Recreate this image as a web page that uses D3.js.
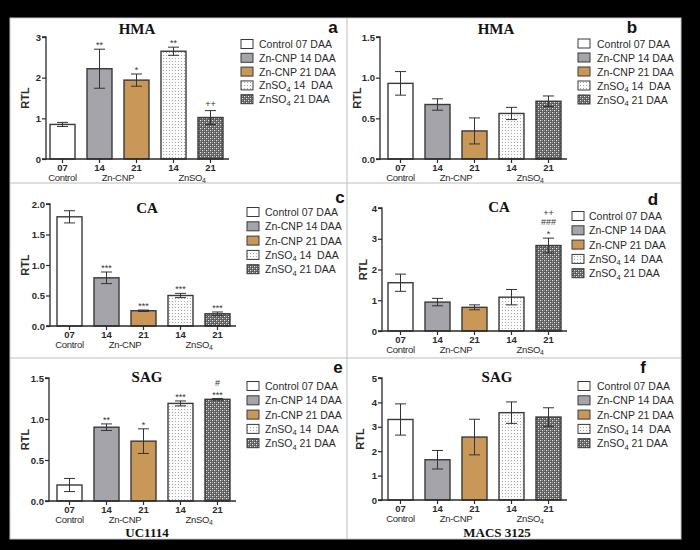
<!DOCTYPE html>
<html><head><meta charset="utf-8">
<script src="https://cdn.jsdelivr.net/npm/d3@7"></script>
<style>
html,body{margin:0;padding:0;background:#000;}
svg{display:block;}
</style></head>
<body>
<svg id="chart" width="700" height="550"></svg>
<script>
// ---------- DATA ----------
const categories = ["07", "14", "21", "14", "21"];
const groupLabels = ["Control", "Zn-CNP", "ZnSO4"];
const seriesNames = ["Control 07 DAA", "Zn-CNP 14 DAA", "Zn-CNP 21 DAA", "ZnSO4 14  DAA", "ZnSO4 21 DAA"];
const panelLetters = ["a", "b", "c", "d", "e", "f"];
const panelTitles = ["HMA", "HMA", "CA", "CA", "SAG", "SAG"];
const cultivars = ["UC1114", "MACS 3125"];

const hmaUC = [0.85, 2.22, 1.94, 2.65, 1.02];
const hmaUCErr = [0.05, 0.48, 0.15, 0.10, 0.17];
const hmaUCAnn = ["", "**", "*", "**", "++"];

const hmaMACS = [0.93, 0.67, 0.345, 0.56, 0.71];
const hmaMACSErr = [0.145, 0.07, 0.16, 0.075, 0.065];
const hmaMACSAnn = ["", "", "", "", ""];

const caUC = [1.79, 0.79, 0.25, 0.50, 0.20];
const caUCErr = [0.10, 0.095, 0.012, 0.035, 0.03];
const caUCAnn = ["", "***", "***", "***", "***"];

const caMACS = [1.57, 0.94, 0.77, 1.10, 2.78];
const caMACSErr = [0.28, 0.12, 0.08, 0.25, 0.24];
const caMACSAnn = ["", "", "", "", "*\n###\n++"];

const sagUC = [0.195, 0.90, 0.73, 1.19, 1.24];
const sagUCErr = [0.08, 0.04, 0.15, 0.03, 0.01];
const sagUCAnn = ["", "**", "*", "***", "***\n#"];

const sagMACS = [3.30, 1.65, 2.58, 3.58, 3.40];
const sagMACSErr = [0.64, 0.38, 0.73, 0.44, 0.38];
const sagMACSAnn = ["", "", "", "", ""];

const yMaxes = [3, 1.5, 2, 4, 1.5, 5];
const yTicks = [[0,1,2,3],[0,0.5,1,1.5],[0,0.5,1,1.5,2],[0,1,2,3,4],[0,0.5,1,1.5],[0,1,2,3,4,5]];
const yFormats = ["d", ".1f", ".1f", "d", ".1f", "d"];

// ---------- STYLE / LAYOUT ----------
const fills = ["#ffffff", "#a4a4aa", "#c99858", "url(#dots)", "url(#checks)"];
const layouts = [
  {axisX:46, barStart:50, y0:159, yTop:37, title:[137,34], letter:[333,33], rtlX:25, legSq:241, legTx:259, legY:44, legDy:13.8},
  {axisX:380, barStart:388, y0:159, yTop:37, title:[496,34], letter:[632,33], rtlX:357, legSq:578, legTx:597, legY:43.5, legDy:14},
  {axisX:50, barStart:57, y0:326, yTop:204, title:[147,213], letter:[340,203], rtlX:25, legSq:247, legTx:265, legY:212, legDy:14.3},
  {axisX:382, barStart:388, y0:331, yTop:208, title:[499,212], letter:[653,205], rtlX:363, legSq:572, legTx:589, legY:216, legDy:14.3},
  {axisX:49, barStart:57, y0:501, yTop:378, title:[147,382], letter:[338,373], rtlX:25, legSq:247, legTx:265, legY:386, legDy:14.3},
  {axisX:382, barStart:388, y0:500, yTop:378, title:[497,382], letter:[643,373], rtlX:360, legSq:578, legTx:597, legY:386, legDy:14.3}
];
const panelsData = [
  [hmaUC, hmaUCErr, hmaUCAnn], [hmaMACS, hmaMACSErr, hmaMACSAnn],
  [caUC, caUCErr, caUCAnn], [caMACS, caMACSErr, caMACSAnn],
  [sagUC, sagUCErr, sagUCAnn], [sagMACS, sagMACSErr, sagMACSAnn]
];

const svg = d3.select("#chart");
const defs = svg.append("defs");
const pd = defs.append("pattern").attr("id","dots").attr("patternUnits","userSpaceOnUse").attr("width",3).attr("height",3);
pd.append("rect").attr("width",3).attr("height",3).attr("fill","#fbfbfb");
pd.append("rect").attr("x",1).attr("y",1).attr("width",1).attr("height",1).attr("fill","#a8a8a8");
const pc = defs.append("pattern").attr("id","checks").attr("patternUnits","userSpaceOnUse").attr("width",4).attr("height",4);
pc.append("rect").attr("width",4).attr("height",4).attr("fill","#585858");
pc.append("rect").attr("x",0).attr("y",0).attr("width",1.2).attr("height",1.2).attr("fill","#e8e8e8");
pc.append("rect").attr("x",2).attr("y",2).attr("width",1.2).attr("height",1.2).attr("fill","#e8e8e8");
pc.append("rect").attr("x",2).attr("y",0).attr("width",1).attr("height",1).attr("fill","#9a9a9a");
pc.append("rect").attr("x",0).attr("y",2).attr("width",1).attr("height",1).attr("fill","#9a9a9a");

// white sheet
svg.append("rect").attr("x",10).attr("y",18).attr("width",671).attr("height",521).attr("fill","#fff")
  .attr("stroke","#c8c8c8").attr("stroke-width",1);
// dividers
svg.append("line").attr("x1",347).attr("x2",347).attr("y1",18).attr("y2",539).attr("stroke","#bdbdbd").attr("stroke-width",1);
svg.append("line").attr("x1",10).attr("x2",681).attr("y1",183).attr("y2",183).attr("stroke","#bdbdbd").attr("stroke-width",1);
svg.append("line").attr("x1",10).attr("x2",681).attr("y1",358).attr("y2",358).attr("stroke","#bdbdbd").attr("stroke-width",1);

const ink = "#2a2a2a";
const sans = "Arial, 'Liberation Sans', Helvetica, sans-serif";
const serif = "'Times New Roman', 'Liberation Serif', serif";

function addZnSO4(sel, rest) {
  sel.append("tspan").text("ZnSO");
  sel.append("tspan").attr("font-size","0.72em").attr("dy",2.5).text("4");
  if (rest) sel.append("tspan").attr("dy",-2.5).text(rest);
}

panelsData.forEach((pdat, i) => {
  const [vals, errs, anns] = pdat;
  const L = layouts[i];
  const g = svg.append("g");
  const step = 37, bw = 25;
  const x = d3.scaleBand().domain(d3.range(categories.length))
    .range([L.barStart - 6, L.barStart - 6 + step * categories.length])
    .paddingInner(12/37).paddingOuter(6/37);
  const y = d3.scaleLinear().domain([0, yMaxes[i]]).range([L.y0, L.yTop]);

  // bars
  g.selectAll("rect.bar").data(vals).join("rect")
    .attr("x", (d,j) => x(j)).attr("width", x.bandwidth())
    .attr("y", d => y(d)).attr("height", d => L.y0 - y(d))
    .attr("fill", (d,j) => fills[j]).attr("stroke", "#3a3a3a").attr("stroke-width", 1.4);

  // error bars
  vals.forEach((v, j) => {
    const cx = x(j) + x.bandwidth()/2;
    const hi = y(v + errs[j]), lo = y(Math.max(0, v - errs[j]));
    g.append("line").attr("x1",cx).attr("x2",cx).attr("y1",hi).attr("y2",lo).attr("stroke","#333").attr("stroke-width",1);
    [hi, lo].forEach(yy => g.append("line").attr("x1",cx-5.5).attr("x2",cx+5.5).attr("y1",yy).attr("y2",yy).attr("stroke","#333").attr("stroke-width",1));
    if (anns[j]) {
      const lines = anns[j].split("\n");
      lines.forEach((t, k) => {
        g.append("text").attr("x", cx).attr("y", hi - 4 - k*9 + (t.indexOf("*")>=0 ? 3 : 0))
          .attr("text-anchor","middle").attr("font-family",sans).attr("font-size",9)
          .attr("fill","#333").text(t);
      });
    }
  });

  // y axis
  const yAxis = d3.axisLeft(y).tickValues(yTicks[i]).tickSize(4).tickFormat(d3.format(yFormats[i]));
  const ga = g.append("g").attr("transform", `translate(${L.axisX},0)`).call(yAxis);
  ga.select(".domain").attr("stroke", ink).attr("stroke-width", 1.3).attr("d", `M-4,${L.yTop}H0V${L.y0}H-4`);
  ga.selectAll(".tick line").attr("stroke", ink).attr("stroke-width", 1.2);
  ga.selectAll(".tick text").attr("font-family", sans).attr("font-size", 9.5).attr("font-weight","bold").attr("fill", ink).attr("x",-5);

  // x axis
  const xEnd = L.barStart + step * 4 + bw + 6;
  g.append("line").attr("x1", L.axisX).attr("x2", xEnd).attr("y1", L.y0).attr("y2", L.y0).attr("stroke", ink).attr("stroke-width", 1.3);
  categories.forEach((c, j) => {
    const cx = x(j) + x.bandwidth()/2;
    g.append("line").attr("x1",cx).attr("x2",cx).attr("y1",L.y0).attr("y2",L.y0+4).attr("stroke",ink).attr("stroke-width",1.2);
    g.append("text").attr("x",cx).attr("y",L.y0+12).attr("text-anchor","middle")
      .attr("font-family",sans).attr("font-size",9.5).attr("font-weight","bold").attr("fill",ink).text(c);
  });
  const grpX = [x(0)+bw/2, (x(1)+x(2))/2 + bw/2, (x(3)+x(4))/2 + bw/2];
  groupLabels.forEach((gl, k) => {
    const t = g.append("text").attr("x", grpX[k]).attr("y", L.y0 + 21.5).attr("text-anchor","middle")
      .attr("font-family",sans).attr("font-size",9.5).attr("fill",ink).attr("letter-spacing",-0.3);
    if (gl === "ZnSO4") addZnSO4(t, ""); else t.text(gl);
  });

  // RTL label
  g.append("text").attr("transform", `translate(${L.rtlX + 4},${(L.y0 + L.yTop)/2}) rotate(-90)`)
    .attr("text-anchor","middle").attr("font-family",sans).attr("font-size",11).attr("font-weight","bold").attr("fill",ink).text("RTL");

  // title
  g.append("text").attr("x", L.title[0]).attr("y", L.title[1]).attr("text-anchor","middle")
    .attr("font-family",serif).attr("font-size",15).attr("font-weight","bold").attr("fill","#111").text(panelTitles[i]);
  // letter
  g.append("text").attr("x", L.letter[0]).attr("y", L.letter[1]).attr("text-anchor","middle")
    .attr("font-family",sans).attr("font-size",17).attr("font-weight","bold").attr("fill","#111").text(panelLetters[i]);

  // legend
  seriesNames.forEach((s, j) => {
    const yy = L.legY + j * L.legDy;
    g.append("rect").attr("x", L.legSq).attr("y", yy - 4.5).attr("width", 12).attr("height", 9)
      .attr("fill", fills[j]).attr("stroke", "#3a3a3a").attr("stroke-width", 1);
    const t = g.append("text").attr("x", L.legTx).attr("y", yy + 4).attr("font-family",sans)
      .attr("font-size",10.5).attr("fill",ink).attr("xml:space","preserve").style("white-space","pre");
    if (s.startsWith("ZnSO4")) addZnSO4(t, s.slice(5)); else t.text(s);
  });
});

// cultivar labels
svg.append("text").attr("x",147).attr("y",537).attr("text-anchor","middle").attr("font-family",serif)
  .attr("font-size",13).attr("font-weight","bold").attr("fill","#111").text(cultivars[0]);
svg.append("text").attr("x",497).attr("y",537).attr("text-anchor","middle").attr("font-family",serif)
  .attr("font-size",13).attr("font-weight","bold").attr("fill","#111").text(cultivars[1]);
</script>
</body></html>
